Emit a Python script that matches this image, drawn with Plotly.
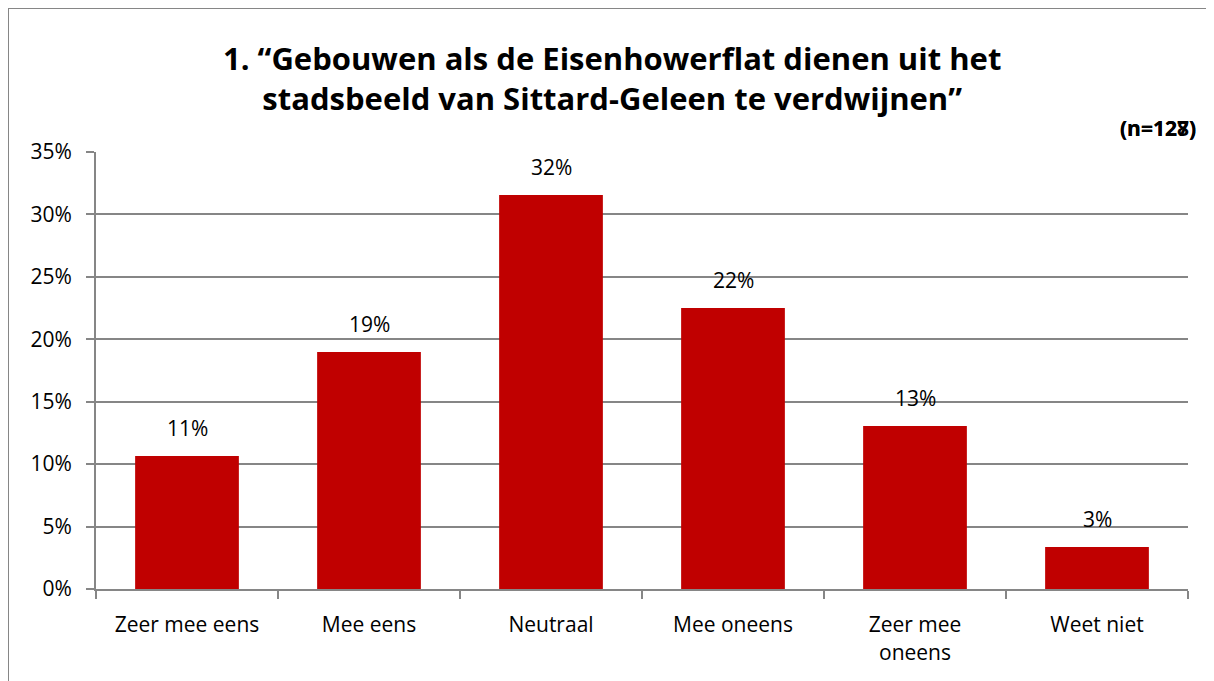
import plotly.graph_objects as go

categories = ["Zeer mee eens", "Mee eens", "Neutraal", "Mee oneens", "Zeer mee<br>oneens", "Weet niet"]
values = [0.1065, 0.1898, 0.3156, 0.2250, 0.1305, 0.0336]
labels = ["11%", "19%", "32%", "22%", "13%", "3%"]
y_ticks = [0, 0.05, 0.10, 0.15, 0.20, 0.25, 0.30, 0.35]
y_tick_labels = ["0%", "5%", "10%", "15%", "20%", "25%", "30%", "35%"]
title_text = "1. “Gebouwen als de Eisenhowerflat dienen uit het<br>stadsbeeld van Sittard-Geleen te verdwijnen”"

FONT = "'Open Sans', Lato, sans-serif"
# page body has an 8px margin, so the figure is drawn 8px in from the top-left
W, H = 1206, 673

fig = go.Figure()
fig.add_trace(go.Bar(
    x=categories, y=values,
    marker=dict(color="#C00000", line=dict(width=0)),
    hoverinfo="skip",
))

for c, v, t in zip(categories, values, labels):
    fig.add_annotation(x=c, y=v, text=t, showarrow=False, yanchor="bottom",
                       yshift=12, font=dict(size=21, color="#000000", family=FONT))

# Title
fig.add_annotation(xref="paper", yref="paper", x=(612 - 96) / 1092, y=1 + (152 - 78) / 437,
                   text="<b>" + title_text + "</b>", showarrow=False,
                   xanchor="center", yanchor="middle",
                   font=dict(size=31, color="#000000", family=FONT), align="center")

# Sample size notes
for n_txt in ["(n=127)", "(n=128)"]:
    fig.add_annotation(xref="paper", yref="paper", x=(1198 - 96) / 1092, y=1 + (152 - 128) / 437,
                       text="<b>" + n_txt + "</b>", showarrow=False,
                       xanchor="right", yanchor="middle",
                       font=dict(size=21, color="#000000", family=FONT))

# Outer chart border
fig.add_shape(type="rect", xref="paper", yref="paper",
              x0=(8 - 96) / 1092, x1=(1240 - 96) / 1092,
              y0=-(720 - 589) / 437, y1=1 + (152 - 8) / 437,
              line=dict(color="#868686", width=2), fillcolor="rgba(0,0,0,0)", layer="below")

fig.update_layout(
    width=W, height=H,
    margin=dict(l=88, r=26, t=144, b=92),
    paper_bgcolor="white", plot_bgcolor="white",
    showlegend=False,
    bargap=0.43,
    font=dict(family=FONT, size=21, color="#000000"),
    xaxis=dict(
        showline=True, linecolor="#868686", linewidth=2,
        ticks="outside", tickson="boundaries", ticklen=8, tickcolor="#868686", tickwidth=2,
        tickfont=dict(size=21, family=FONT, color="#000000"),
        ticklabelstandoff=16,
        showgrid=False, fixedrange=True,
    ),
    yaxis=dict(
        range=[0, 0.35], tickvals=y_ticks, ticktext=y_tick_labels,
        showline=True, linecolor="#868686", linewidth=2,
        ticks="outside", ticklen=8, tickcolor="#868686", tickwidth=2,
        showgrid=True, gridcolor="#868686", gridwidth=1.5,
        tickfont=dict(size=21, family=FONT, color="#000000"),
        ticklabelstandoff=10,
        zeroline=False, fixedrange=True,
    ),
)

fig.write_html("out.html")
